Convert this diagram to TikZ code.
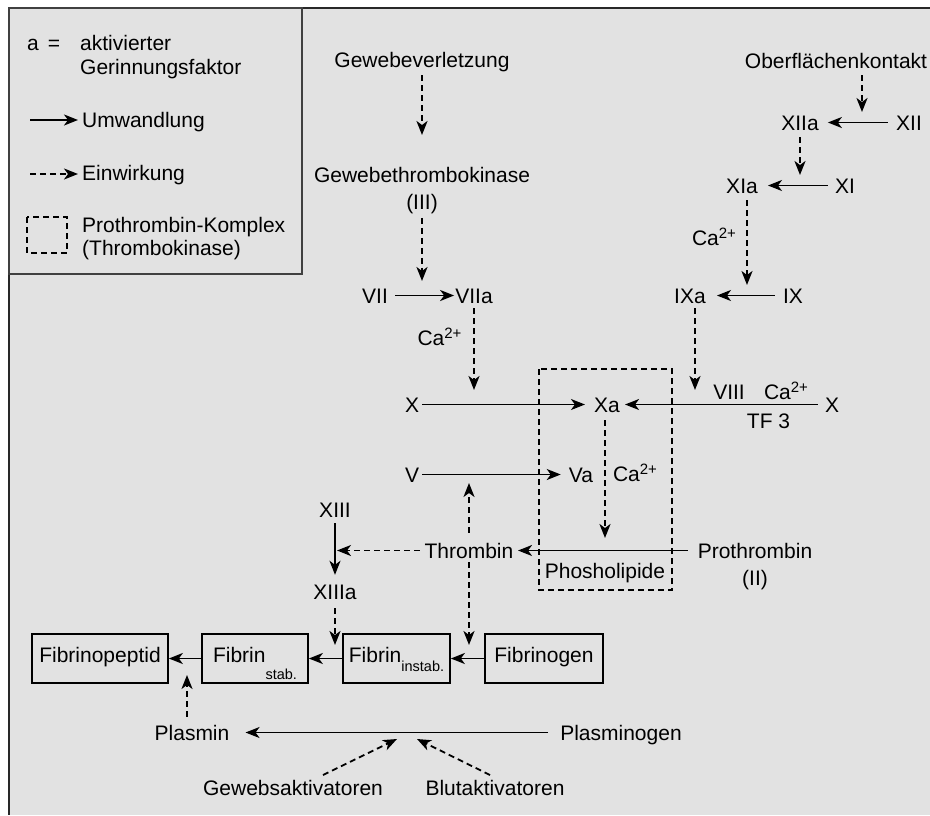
\documentclass[tikz,border=0pt]{standalone}
\usepackage{fontspec}
\setmainfont{Liberation Sans}
\usetikzlibrary{arrows.meta,calc}
\definecolor{bgc}{RGB}{226,226,226}
\definecolor{frm}{RGB}{40,40,40}
\newcommand\myup[1]{\raisebox{6.5pt}{\fontsize{15}{15}\selectfont #1}}
\newcommand\mydn[2]{\raisebox{-#1}{\fontsize{14.5}{15}\selectfont #2}}
\begin{document}
\begin{tikzpicture}[x=1pt,y=-1pt,
  font=\fontsize{21}{27}\selectfont,
  lbl/.style={inner sep=0pt, text height=15pt, text depth=0pt, anchor=base},
  two/.style={inner sep=0pt, align=center, anchor=north},
  fbox/.style={draw=black, line width=1.7pt, inner sep=0pt, text height=15pt, text depth=8pt, minimum height=49pt},
  tip/.tip={Stealth[length=14pt,width=11pt,inset=4pt]},
  conv/.style={line width=1.8pt, -tip},
  act/.style={line width=1.8pt, -tip, dash pattern=on 6pt off 4pt},
]
\useasboundingbox (0,0) rectangle (930,815);
\fill[bgc] (9,8) rectangle (930,815);
\draw[frm, line width=1.8pt] (930,8) -- (9,8) -- (9,815);
\draw[black!75, line width=1.1pt] (9,8) rectangle (302,274);

% ---------- legend ----------
\node[lbl] (la) at (33,50) {a};
\node[lbl] (leq) at (54,50) {=};
\node[two, anchor=north west, align=left, font=\fontsize{21}{24}\selectfont] (lakt) at (80,35) {aktivierter\\Gerinnungsfaktor};
\coordinate (lu1) at (30,120);
\coordinate (lu2) at (78,120);
\node[lbl, anchor=base west] (lum) at (82,127) {Umwandlung};
\coordinate (le1) at (30,174);
\coordinate (le2) at (78,174);
\node[lbl, anchor=base west] (lein) at (82,180) {Einwirkung};
\draw[conv] (lu1) -- (lu2);
\draw[act] (le1) -- (le2);
\draw[line width=1.4pt, dash pattern=on 6pt off 4pt] (27,217) rectangle (67,253);
\node[two, anchor=north west, align=left, font=\fontsize{21}{23}\selectfont] (lpk) at (82,217) {Prothrombin-Komplex\\(Thrombokinase)};

% ---------- prothrombin complex frame ----------
\draw[line width=1.4pt, dash pattern=on 6pt off 4pt] (539,369) rectangle (672,590);

% ---------- nodes ----------
\node[lbl] (gv) at (422,67) {Gewebeverletzung};
\node[two, font=\fontsize{21}{27.5}\selectfont] (gtk) at (422,167) {Gewebethrombokinase\\(III)};
\node[lbl] (vii) at (375,303) {VII};
\node[lbl] (viia) at (474,303) {VIIa};
\node[lbl] (ca1) at (439.5,345) {Ca\myup{2+}};
\node[lbl] (xl) at (412,412) {X};
\node[lbl] (xa) at (607,412) {Xa};
\node[lbl] (xr) at (832,412) {X};
\node[lbl] (viii) at (729,399) {VIII};
\node[lbl] (ca4) at (786,399) {Ca\myup{2+}};
\node[lbl] (tf) at (768.5,428) {TF 3};
\node[lbl] (ixa) at (690,303) {IXa};
\node[lbl] (ix) at (793,303) {IX};
\node[lbl] (ca2) at (714,245) {Ca\myup{2+}};
\node[lbl] (ober) at (836,68) {Oberflächenkontakt};
\node[lbl] (xiia) at (800,130) {XIIa};
\node[lbl] (xii) at (909,130) {XII};
\node[lbl] (xia) at (742,193) {XIa};
\node[lbl] (xi) at (845,193) {XI};
\node[lbl] (v) at (412,482) {V};
\node[lbl] (va) at (581,482) {Va};
\node[lbl] (ca3) at (635,481) {Ca\myup{2+}};
\node[lbl] (thr) at (469,558) {Thrombin};
\node[two] (pro) at (755,543) {Prothrombin\\(II)};
\node[lbl] (phos) at (605,578) {Phosholipide};
\node[lbl] (xiii) at (335,517) {XIII};
\node[lbl] (xiiia) at (335,599) {XIIIa};
\node[fbox, minimum width=136pt] (fpep) at (100,658.5) {Fibrinopeptid};
\node[fbox, minimum width=106pt] (fstab) at (255,658.5) {Fibrin\mydn{17pt}{stab.}};
\node[fbox, minimum width=107pt] (finst) at (396.5,658.5) {Fibrin\mydn{9pt}{instab.}};
\node[fbox, minimum width=118pt] (fgen) at (544,658.5) {Fibrinogen};
\node[lbl] (plasmin) at (192,740) {Plasmin};
\node[lbl] (plgen) at (621,740) {Plasminogen};
\node[lbl] (gewa) at (293,795) {Gewebsaktivatoren};
\node[lbl] (blut) at (495,795) {Blutaktivatoren};

% ---------- free arrow ends ----------
\coordinate (t2) at (422,281);
\coordinate (t3) at (474,390);
\coordinate (t4) at (695,390);
\coordinate (t5) at (862,112);
\coordinate (t6) at (800,175);
\coordinate (t7) at (747,285);
\coordinate (t8) at (605,538);
\coordinate (tv) at (469,483);
\coordinate (tf2) at (469,645);
\coordinate (t10) at (xiii |- thr);
\coordinate (t11) at (335,645);
\coordinate (t12) at (187,675);
\coordinate (g1) at (323,775);
\coordinate (g2) at (397,739);
\coordinate (b1) at (490,775);
\coordinate (b2) at (417,739);

% ---------- conversions ----------
\draw[conv, shorten <=7pt, shorten >=1pt] (vii) -- (viia);
\draw[conv, shorten <=3pt, shorten >=9pt] (xl) -- (xa);
\draw[conv, shorten <=7pt, shorten >=5pt] (xr) -- (xa);
\draw[conv, shorten <=3pt, shorten >=8pt] (v) -- (va);
\draw[conv, shorten <=8pt, shorten >=11pt] (ix) -- (ixa);
\draw[conv, shorten <=8pt, shorten >=9pt] (xii) -- (xiia);
\draw[conv, shorten <=7pt, shorten >=10pt] (xi) -- (xia);
\draw[conv, shorten <=10pt, shorten >=4.5pt] (pro.west |- thr) -- (thr);
\draw[conv, shorten <=12pt, shorten >=16pt] (plgen) -- (plasmin);
\draw[conv, shorten <=6pt, shorten >=9pt] (xiii.south) -- (xiiia.north);
\draw[conv] (fgen) -- (finst);
\draw[conv] (finst) -- (fstab);
\draw[conv] (fstab) -- (fpep);

% ---------- actions ----------
\draw[act, shorten <=8pt, shorten >=32pt] (gv.south) -- (gtk.north);
\draw[act, shorten <=3.5pt] (gtk.south) -- (t2);
\draw[act, shorten <=5pt] (viia.south) -- (t3);
\draw[act, shorten <=5pt] (t4 |- ixa.south) -- (t4);
\draw[act, shorten <=7pt] (t5 |- ober.south) -- (t5);
\draw[act, shorten <=7pt] (xiia.south) -- (t6);
\draw[act, shorten <=7pt] (t7 |- xia.south) -- (t7);
\draw[act, shorten <=8pt] (t8 |- xa.south) -- (t8);
\draw[act, shorten <=10pt] (thr.north) -- (tv);
\draw[act, shorten <=4pt] (thr.south) -- (tf2);
\draw[act, shorten <=4.6pt, shorten >=2pt] (thr.west) -- (t10);
\draw[act, shorten <=9pt] (xiiia.south) -- (t11);
\draw[act, shorten <=8pt] (t12 |- plasmin.north) -- (t12);
\draw[act] (g1) -- (g2);
\draw[act] (b1) -- (b2);
\end{tikzpicture}
\end{document}
